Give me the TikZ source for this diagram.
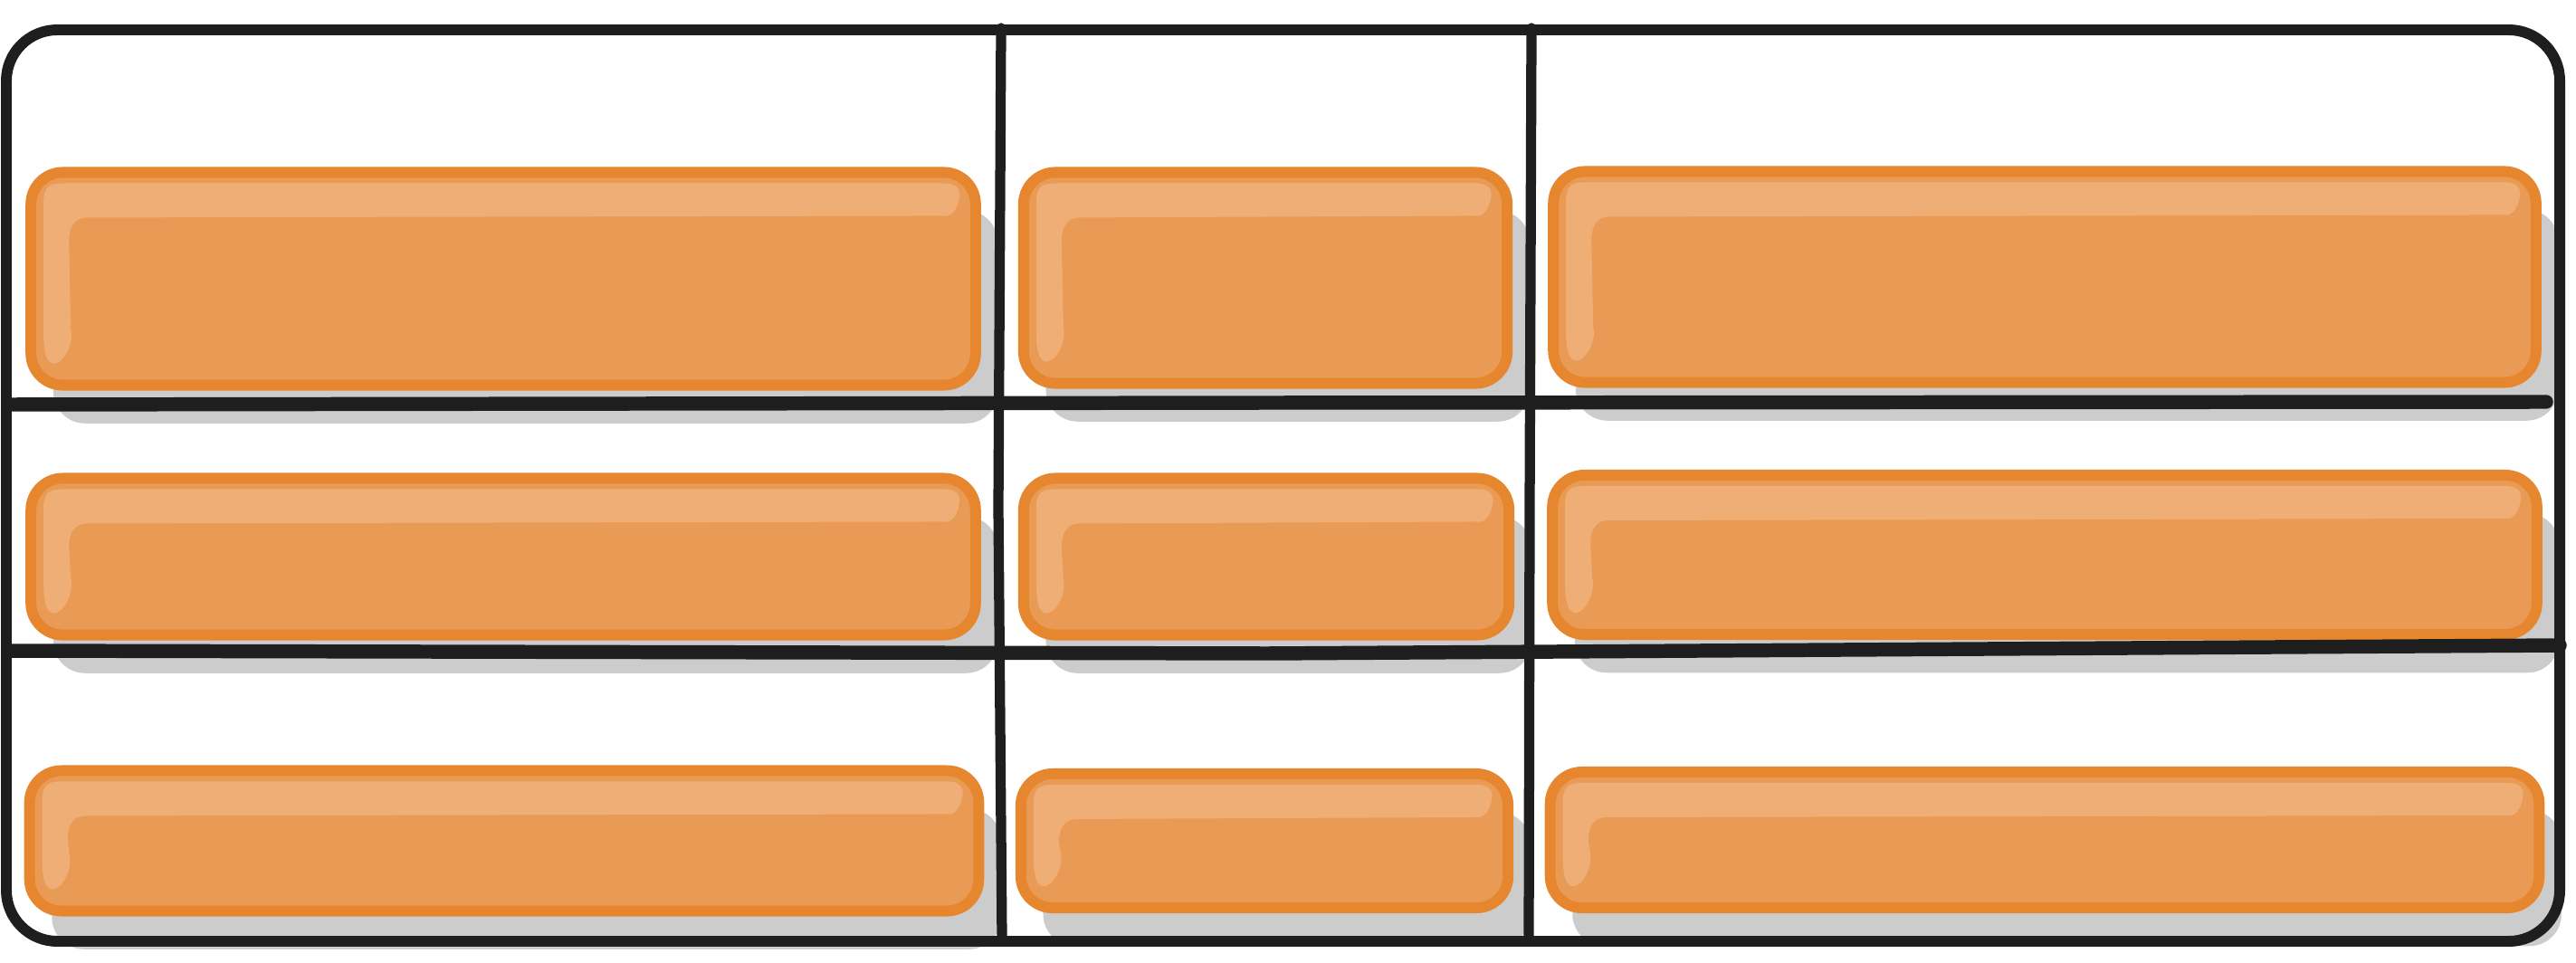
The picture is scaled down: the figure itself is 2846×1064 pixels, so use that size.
\documentclass[tikz,border=0pt]{standalone}
\usepackage{xcolor}
\usepackage{tikz}
\usetikzlibrary{calc,shadows}
\definecolor{gridInk}{HTML}{1E1E1E}
\definecolor{tileEdge}{HTML}{E6872F}
\definecolor{tileFill}{HTML}{E99B55}
\definecolor{tileGlint}{HTML}{EFAE75}
\definecolor{tileShade}{HTML}{CCCCCC}

\begin{document}
\begin{tikzpicture}[x=0.01cm,y=-0.01cm,
  tile/.style={draw=tileEdge,fill=tileFill,line width=3.4pt,rounded corners=10pt,outer sep=0pt,
    drop shadow={shadow xshift=7pt,shadow yshift=-12pt,fill=tileShade,opacity=1}},
  gridline/.style={draw=gridInk,line cap=round,line join=round}]
  \useasboundingbox (0,0) rectangle (2846,1064);
  % tiles, row by row
  \node[tile,minimum width=10.43cm,minimum height=2.35cm] (r1c1) at (556,308) {};
  \node[tile,minimum width=5.34cm,minimum height=2.33cm] (r1c2) at (1398,307) {};
  \node[tile,minimum width=10.85cm,minimum height=2.33cm] (r1c3) at (2259,306) {};
  \node[tile,minimum width=10.43cm,minimum height=1.73cm] (r2c1) at (556,615) {};
  \node[tile,minimum width=5.36cm,minimum height=1.73cm] (r2c2) at (1399,615) {};
  \node[tile,minimum width=10.87cm,minimum height=1.76cm] (r2c3) at (2259,613) {};
  \node[tile,minimum width=10.48cm,minimum height=1.55cm] (r3c1) at (557,929) {};
  \node[tile,minimum width=5.38cm,minimum height=1.48cm] (r3c2) at (1397,929) {};
  \node[tile,minimum width=10.92cm,minimum height=1.50cm] (r3c3) at (2259,928) {};
  % glints
  \foreach \t in {r1c1,r1c2,r1c3,r2c1,r2c2,r2c3,r3c1,r3c2,r3c3}
    \fill[tileGlint] ($(\t.north west)+(14,32)$)
      .. controls ($(\t.north west)+(14,16)$) and ($(\t.north west)+(20,12)$) .. ($(\t.north west)+(36,12)$)
      -- ($(\t.north east)+(-34,12)$)
      .. controls ($(\t.north east)+(-22,12)$) and ($(\t.north east)+(-16,18)$) .. ($(\t.north east)+(-18,28)$)
      .. controls ($(\t.north east)+(-20,40)$) and ($(\t.north east)+(-26,50)$) .. ($(\t.north east)+(-36,48)$)
      -- ($(\t.north west)+(62,50)$)
      .. controls ($(\t.north west)+(48,50)$) and ($(\t.north west)+(42,60)$) .. ($(\t.north west)+(42,76)$)
      -- ($(\t.south west)+(44,-62)$)
      .. controls ($(\t.south west)+(48,-44)$) and ($(\t.south west)+(34,-22)$) .. ($(\t.south west)+(24,-24)$)
      .. controls ($(\t.south west)+(16,-26)$) and ($(\t.south west)+(14,-40)$) .. ($(\t.south west)+(14,-56)$)
      -- cycle;
  % grid
  \draw[gridline,line width=3.4pt,rounded corners=16pt] (7,33) rectangle (2828,1040);
  \draw[gridline,line width=3.2pt] (1106,31) -- (1103,560) -- (1107,1038);
  \draw[gridline,line width=3.2pt] (1692,31) -- (1690,560) -- (1689,1038);
  \draw[gridline,line width=4.4pt] (9,447) -- (1400,445) -- (2813,444);
  \draw[gridline,line width=4.4pt] (9,719) -- (1400,722) -- (2828,713);
\end{tikzpicture}
\end{document}
